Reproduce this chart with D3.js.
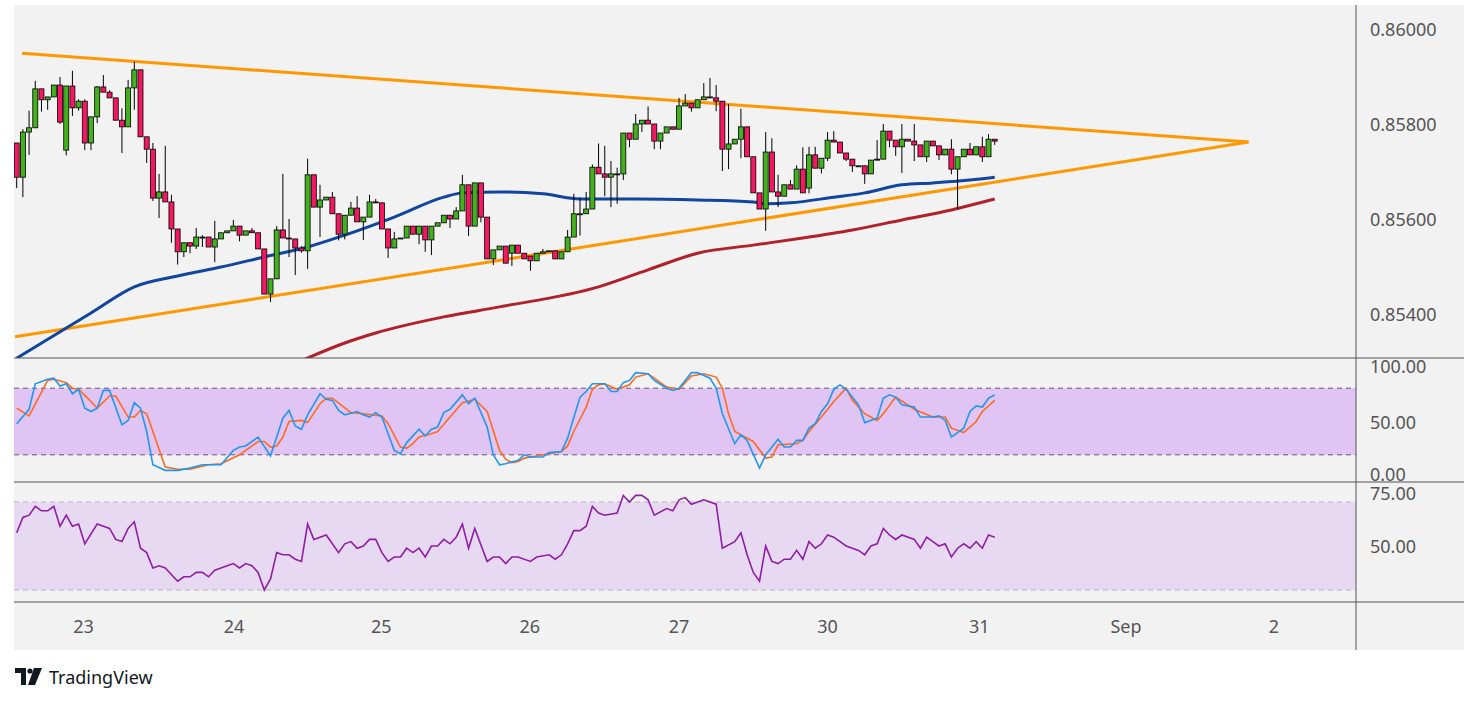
<!DOCTYPE html>
<html><head><meta charset="utf-8">
<script src="https://cdn.jsdelivr.net/npm/d3@7/dist/d3.min.js"></script>
<style>body{margin:0;background:#fff;font-family:"Noto Sans",sans-serif}</style>
</head><body><svg id="c" width="1479" height="703"></svg>
<script>
// prices in points (1 point = 0.00001)
const closes=[85688,85783,85792,85874,85851,85857,85882,85804,85880,85834,85848,85760,85815,85878,85867,85855,85808,85794,85876,85914,
85773,85747,85644,85657,85636,85579,85531,85550,85543,85562,85562,85541,85558,85571,85575,85585,85566,85575,85571,85537,
85442,85474,85577,85560,85558,85539,85533,85693,85625,85640,85646,85611,85568,85608,85623,85594,85604,85636,85634,85579,
85539,85558,85560,85585,85568,85585,85556,85585,85592,85608,85600,85617,85672,85585,85676,85604,85516,85535,85543,85507,
85545,85528,85516,85512,85528,85531,85533,85516,85531,85562,85611,85611,85621,85709,85695,85688,85695,85695,85781,85768,
85800,85808,85800,85764,85781,85794,85789,85838,85844,85834,85851,85857,85855,85848,85747,85758,85768,85794,85731,85655,
85621,85741,85657,85648,85672,85663,85705,85655,85735,85707,85728,85766,85762,85739,85726,85712,85712,85695,85724,85726,
85785,85766,85752,85768,85764,85756,85731,85764,85754,85735,85747,85705,85731,85747,85735,85752,85731,85768,85764];
const openOverrides={0:85760,8:85745,80:85528,83:85522,128:85665};
const wickUp=[0,6,36,17,0,0,0,17,0,32,4,4,0,2,25,4,0,25,17,17,0,0,13,38,97,15,0,0,0,19,4,0,38,0,0,13,0,0,6,0,
0,0,8,118,40,0,4,34,0,32,0,11,0,0,13,25,0,15,6,0,0,15,0,0,0,0,0,0,0,0,0,8,21,0,0,0,0,0,0,0,
0,0,0,0,0,6,0,0,0,15,42,34,36,6,50,59,27,13,0,0,21,0,29,0,0,0,0,17,19,0,0,29,40,27,0,84,0,38,0,0,
0,42,29,36,0,10,8,46,17,17,0,17,19,0,0,0,0,0,0,40,15,0,0,32,0,36,0,0,0,0,0,21,0,0,13,0,21,11,0];
const wickDn=[23,42,48,0,25,21,0,4,11,17,6,15,15,13,0,0,0,55,0,46,0,29,6,42,0,29,27,11,15,6,21,0,32,0,0,0,13,0,0,0,
0,17,0,0,38,57,4,38,0,63,0,0,13,11,0,0,38,0,0,0,21,0,0,0,0,21,25,32,0,0,19,0,0,21,0,11,0,13,0,0,
27,0,0,21,0,0,0,0,0,0,0,46,0,0,0,40,63,63,13,17,0,17,0,17,17,0,0,0,0,8,0,0,0,21,46,42,0,40,0,0,
0,46,0,23,0,0,0,0,11,0,11,6,0,0,4,13,0,21,0,0,0,15,19,55,0,34,0,11,0,11,0,11,84,0,0,0,11,0,8];
// moving averages [candle index, points]
const ma100=[[0,85307],[12,85402],[19,85457],[26,85480],[33,85499],[40,85520],[47,85541],[53,85566],[61,85604],[69,85646],[72,85655],[78,85657],[85,85653],[91,85642],[100,85642],[110,85640],[119,85636],[121,85632],[125,85634],[132,85646],[137,85655],[143,85672],[148,85676],[154,85682],[158,85688]];
const ma200=[[44,85290],[53,85339],[58,85360],[69,85394],[78,85415],[94,85457],[102,85493],[110,85528],[119,85545],[127,85560],[135,85577],[143,85598],[151,85619],[158,85642]];
const trendUpper=[[0.86,85949],[199,85762]];
const trendLower=[[-0.27,85352],[199,85762]];
const stochK=[[0,48],[2,61],[3,84],[5,88],[6,89],[7,82],[8,84],[9,75],[10,79],[11,62],[12,59],[13,62],[14,78],[15,78],[17,47],[18,51],[19,67],[20,62],[21,41],[22,11],[24,6],[26,6],[28,8],[30,11],[33,11],[35,24],[36,27],[37,28],[39,36],[41,19],[43,53],[44,60],[45,46],[46,43],[47,56],[49,75],[50,70],[51,69],[52,60],[53,56],[55,59],[56,56],[57,54],[58,58],[59,54],[61,24],[62,21],[63,31],[65,43],[66,37],[67,43],[68,45],[69,58],[70,61],[72,74],[73,66],[74,71],[76,45],[77,20],[78,11],
[79,12],[81,15],[82,20],[83,18],[85,18],[86,22],[88,23],[89,35],[91,72],[92,77],[93,84],[95,84],[96,77],[97,77],[98,85],[99,87],[100,94],[102,93],[103,87],[105,80],[106,78],[107,80],[109,94],[110,94],[112,89],[113,80],[114,57],[116,30],[117,38],[118,33],[120,8],[121,20],[123,34],[124,27],[125,27],[126,33],[127,33],[128,44],[129,48],[130,59],[131,66],[132,79],[133,83],[134,79],[136,65],[137,49],[139,53],[140,71],[141,74],[142,72],[143,65],[145,63],[146,54],[148,54],[149,55],[150,51],[151,36],[153,44],[154,59],[155,64],[156,63],[157,71],[158,74]];
const stochD=[[0,62],[2,55],[5,87],[6,88],[8,85],[9,80],[10,79],[12,68],[13,62],[15,73],[16,73],[18,54],[19,54],[20,60],[21,57],[24,9],[26,7],[28,7],[31,11],[33,12],[36,20],[39,32],[40,32],[41,27],[42,28],[43,36],[44,50],[46,51],[47,49],[49,66],[50,71],[51,71],[54,58],[56,57],[59,55],[60,48],[62,27],[63,26],[64,30],[65,36],[67,39],[68,41],[70,54],[72,67],[74,70],[76,59],[78,24],
[79,16],[80,13],[81,14],[82,17],[86,21],[88,23],[89,28],[90,41],[92,63],[93,79],[94,83],[95,84],[97,79],[99,83],[100,90],[102,93],[103,89],[105,81],[107,79],[109,91],[111,93],[113,90],[114,80],[115,57],[116,41],[119,32],[121,17],[122,18],[123,29],[126,30],[127,33],[128,41],[130,54],[132,68],[134,80],[135,69],[137,57],[139,51],[140,57],[142,72],[145,61],[148,54],[150,54],[151,44],[153,40],[155,50],[156,59],[158,69]];
const rsi=[[0,56],[1,63],[2,64],[3,68],[4,66],[5,66],[6,68],[7,59],[8,64],[9,59],[10,60],[11,51],[13,60],[15,58],[16,53],[17,52],[18,58],[19,61],[20,49],[21,47],[22,40],[23,41],[24,40],[26,34],[27,36],[28,36],[29,38],[30,38],[31,36],[32,39],[33,40],[34,41],[35,42],[36,40],[37,42],[38,41],[39,38],[40,30],[41,35],[42,47],[43,46],[44,46],[45,44],[46,43],[47,60],[48,53],[49,54],[50,55],[51,51],[52,47],[53,51],[54,52],[55,49],[56,50],[57,53],[58,53],[59,47],[60,43],[61,45],[62,45],[63,49],[64,47],[65,49],[66,45],[67,50],[68,50],[69,53],[70,51],[71,54],[72,60],[73,49],[74,58],[76,43],[77,45],[78,45],
[79,42],[80,45],[81,45],[83,43],[84,45],[86,46],[87,44],[88,46],[89,51],[90,57],[91,57],[92,59],[93,68],[94,65],[95,64],[97,65],[98,73],[99,70],[100,73],[101,73],[102,71],[103,64],[105,67],[106,66],[107,71],[108,72],[109,69],[111,71],[113,69],[114,49],[116,52],[117,56],[118,46],[119,38],[120,34],[121,50],[122,43],[123,42],[124,44],[125,44],[126,48],[127,44],[128,52],[129,49],[130,51],[131,55],[132,54],[134,50],[135,49],[136,48],[137,46],[138,50],[139,51],[140,58],[141,55],[142,53],[143,55],[145,53],[146,49],[147,54],[148,52],[149,50],[150,51],[151,45],[152,49],[153,51],[154,49],[155,52],[156,49],[157,55],[158,54]];
const dayTicks=[[10.8,"23"],[35.1,"24"],[58.9,"25"],[82.9,"26"],[107,"27"],[131,"30"],[155.5,"31"],[179.2,"Sep"],[203.1,"2"]];
const priceTicks=[85400,85600,85800,86000];
const stochTicks=[0,50,100];
const rsiTicks=[50,75];

const svg=d3.select("#c");
const L=14,R=1356,RB=1464,T=5,B=650;
const P1=[T,358],P2=[358,482],P3=[482,602];
svg.append("rect").attr("x",L).attr("y",T).attr("width",RB-L).attr("height",B-T).attr("fill","#f2f2f2");
const x=d3.scaleLinear().domain([0,100]).range([16.7,635.7]);
const y=d3.scaleLinear().domain([85400,86000]).range([314,29]);
const ys=d3.scaleLinear().domain([0,100]).range([477,366]);
const yr=d3.scaleLinear().domain([50,75]).range([546,491]);
const defs=svg.append("defs");
[["c1",P1],["c2",P2],["c3",P3]].forEach(([id,p])=>defs.append("clipPath").attr("id",id).append("rect").attr("x",L).attr("y",p[0]).attr("width",R-L).attr("height",p[1]-p[0]));
const g1=svg.append("g").attr("clip-path","url(#c1)");
const g2=svg.append("g").attr("clip-path","url(#c2)");
const g3=svg.append("g").attr("clip-path","url(#c3)");
const line=(ys_)=>d3.line().x(d=>x(d[0])).y(d=>ys_(d[1]));
[trendUpper,trendLower].forEach(t=>g1.append("path").attr("d",line(y)(t)).attr("stroke","#ff9800").attr("stroke-width",3).attr("fill","none"));
g1.append("path").attr("d",line(y).curve(d3.curveMonotoneX)(ma100)).attr("stroke","#1045a0").attr("stroke-width",3).attr("fill","none");
g1.append("path").attr("d",line(y).curve(d3.curveMonotoneX)(ma200)).attr("stroke","#b2202a").attr("stroke-width",3).attr("fill","none");
const candles=closes.map((c,i)=>{const o=openOverrides[i]!==undefined?openOverrides[i]:(i>0?closes[i-1]:c);return {i,o,c,h:Math.max(o,c)+wickUp[i],l:Math.min(o,c)-wickDn[i]};});
const cg=g1.selectAll("g.k").data(candles).join("g");
cg.append("line").attr("x1",d=>x(d.i)).attr("x2",d=>x(d.i)).attr("y1",d=>y(d.h)).attr("y2",d=>y(d.l)).attr("stroke","#000").attr("stroke-width",1);
cg.append("rect").attr("x",d=>x(d.i)-2.5).attr("width",5).attr("y",d=>y(Math.max(d.o,d.c))).attr("height",d=>Math.max(1,Math.abs(y(d.o)-y(d.c)))).attr("fill",d=>d.c>=d.o?"#43b01e":"#f5175f").attr("stroke","#000").attr("stroke-width",0.8);
g2.append("rect").attr("x",L).attr("width",R-L).attr("y",ys(80)).attr("height",ys(20)-ys(80)).attr("fill","#e0c4f4");
[80,20].forEach(v=>g2.append("line").attr("x1",L).attr("x2",R).attr("y1",ys(v)).attr("y2",ys(v)).attr("stroke","#6a5478").attr("stroke-dasharray","5,4"));
g2.append("path").attr("d",line(ys)(stochD)).attr("stroke","#ff6a1f").attr("stroke-width",1.6).attr("fill","none");
g2.append("path").attr("d",line(ys)(stochK)).attr("stroke","#2196f3").attr("stroke-width",1.6).attr("fill","none");
g3.append("rect").attr("x",L).attr("width",R-L).attr("y",yr(70)).attr("height",yr(30)-yr(70)).attr("fill","#e8d9f2");
[70,30].forEach(v=>g3.append("line").attr("x1",L).attr("x2",R).attr("y1",yr(v)).attr("y2",yr(v)).attr("stroke","#b9aec0").attr("stroke-dasharray","5,4"));
g3.append("path").attr("d",line(yr)(rsi)).attr("stroke","#8e1ea8").attr("stroke-width",1.6).attr("fill","none");
[358,482,602].forEach(v=>svg.append("line").attr("x1",L).attr("x2",RB).attr("y1",v).attr("y2",v).attr("stroke","#555"));
svg.append("line").attr("x1",R).attr("x2",R).attr("y1",T).attr("y2",B).attr("stroke","#555");
const txt=(tx,ty,s,anchor)=>svg.append("text").attr("x",tx).attr("y",ty).attr("fill","#555").attr("font-size",18).attr("text-anchor",anchor||"start").attr("dominant-baseline","central").text(s);
priceTicks.forEach(v=>txt(1370,y(v),(v/100000).toFixed(5)));
stochTicks.forEach(v=>txt(1370,ys(v)-(v===0?3:0),v.toFixed(2)));
rsiTicks.forEach(v=>txt(1370,yr(v)+(v===75?2:0),v.toFixed(2)));
dayTicks.forEach(d=>txt(x(d[0]),626,d[1],"middle"));
const lg=svg.append("g").attr("transform","translate(15,668)");
lg.append("path").attr("d","M0 0H11V17H6V5H0Z").attr("fill","#131722");
lg.append("circle").attr("cx",15).attr("cy",3).attr("r",2.6).attr("fill","#131722");
lg.append("path").attr("d","M19 0H27L20 17H13Z").attr("fill","#131722");
svg.append("text").attr("x",49).attr("y",677).attr("fill","#131722").attr("font-size",18).attr("dominant-baseline","central").attr("font-family","'Noto Sans', sans-serif").text("TradingView");
</script></body></html>
